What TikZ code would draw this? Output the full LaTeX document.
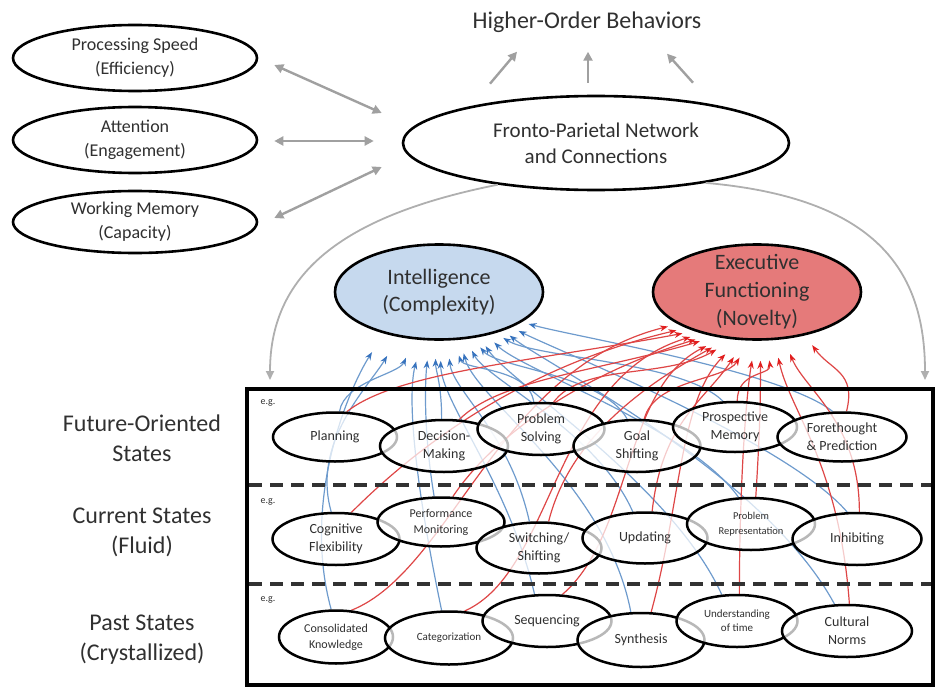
\documentclass[tikz,border=0pt]{standalone}
\usepackage{fontspec}
\setmainfont{Carlito}
\usetikzlibrary{arrows.meta,shapes.geometric,calc}
\definecolor{txt}{RGB}{48,48,48}
\definecolor{garr}{RGB}{160,160,160}
\definecolor{gcur}{RGB}{175,175,175}
\definecolor{bl}{RGB}{110,155,205}
\definecolor{blh}{RGB}{55,115,190}
\definecolor{rd}{RGB}{222,70,70}
\definecolor{rdh}{RGB}{225,30,30}
\definecolor{intf}{RGB}{198,217,238}
\definecolor{eff}{RGB}{229,122,122}
\definecolor{dsh}{RGB}{50,50,50}
\pgfdeclarelayer{bg}
\pgfsetlayers{bg,main}
\begin{document}
\begin{tikzpicture}[x=1pt,y=-1pt,
  every node/.style={text=txt},
  oval/.style={ellipse, draw=black, inner sep=0pt, align=center},
  st/.style={oval, line width=2.5pt, fill=white, fill opacity=0.72, text opacity=1, font=\fontsize{14}{18}\selectfont},
  big/.style={oval, line width=2.6pt, fill=white, font=\fontsize{18}{24}\selectfont},
  side/.style={align=center, font=\fontsize{24}{30}\selectfont},
  eg/.style={font=\fontsize{10}{12}\selectfont},
  garrow/.style={draw=garr, line width=2.4pt, -{Triangle[length=9pt,width=9pt]}},
  gdbl/.style={draw=garr, line width=2.4pt, {Triangle[length=9pt,width=9pt]}-{Triangle[length=9pt,width=9pt]}},
  gcurve/.style={draw=gcur, line width=1.8pt, -{Triangle[length=9pt,width=8pt]}},
  dashline/.style={draw=dsh, line width=3.2pt, dash pattern=on 13pt off 8pt},
  bA/.style={draw=bl, line width=1.2pt, -{Stealth[length=8pt,width=6pt,color=blh]}},
  rA/.style={draw=rd, line width=1.2pt, -{Stealth[length=8pt,width=6pt,color=rdh]}},
]
\useasboundingbox (0,0) rectangle (937,690);

% ---- top part
\node[font=\fontsize{24}{28}\selectfont] (hob) at (587,22) {Higher-Order Behaviors};
\node[big, minimum width=244pt, minimum height=66pt] (psp) at (135,58) {Processing Speed\\(Efficiency)};
\node[big, minimum width=244pt, minimum height=66pt] (att) at (135,140) {Attention\\(Engagement)};
\node[big, minimum width=244pt, minimum height=62pt] (wm) at (135,222) {Working Memory\\(Capacity)};
\node[oval, line width=2.6pt, fill=white, minimum width=386pt, minimum height=94pt, font=\fontsize{21}{26}\selectfont] (fpn) at (596,143) {Fronto-Parietal Network\\and Connections};
\node[oval, line width=2.6pt, fill=intf, minimum width=208pt, minimum height=95pt, font=\fontsize{22}{27}\selectfont] (intel) at (439,292) {Intelligence\\(Complexity)};
\node[oval, line width=2.6pt, fill=eff, minimum width=208pt, minimum height=95pt,
  label={[align=center, text=txt, font=\fontsize{22}{28}\selectfont]center:Executive\\Functioning\\(Novelty)}] (ef) at (757,292) {};

% ---- side labels
\node[side] (fut) at (142,438) {Future-Oriented\\States};
\node[side] (cur) at (142,532) {Current States\\(Fluid)};
\node[side] (past) at (142,640) {Past States\\(Crystallized)};

% ---- box
\node[draw=black, line width=4.8pt, minimum width=686pt, minimum height=296pt, inner sep=0pt] (box) at (590,537) {};
\coordinate (d1a) at (249,485); \coordinate (d1b) at (931,485);
\coordinate (d2a) at (249,584); \coordinate (d2b) at (931,584);
\draw[dashline] (d1a) -- (d1b);
\draw[dashline] (d2a) -- (d2b);
\node[eg] (eg1) at (268,403) {e.g.};
\node[eg] (eg2) at (268,502) {e.g.};
\node[eg] (eg3) at (268,600) {e.g.};

% ---- row 1
\node[st, minimum width=124pt, minimum height=49pt] (plan) at (335,437) {Planning};
\node[st, minimum width=128pt, minimum height=52pt] (dec) at (444,446) {Decision-\\Making};
\node[st, minimum width=127pt, minimum height=52pt] (ps) at (541,429) {Problem\\Solving};
\node[st, minimum width=127pt, minimum height=52pt] (gs) at (637,446) {Goal\\Shifting};
\node[st, minimum width=124pt, minimum height=50pt] (pm) at (735,427) {Prospective\\Memory};
\node[st, minimum width=129pt, minimum height=49pt] (fp) at (842,437) {Forethought\\\& Prediction};
% ---- row 2
\node[st, minimum width=127pt, minimum height=52pt] (cf) at (336,539) {Cognitive\\Flexibility};
\node[st, minimum width=127pt, minimum height=49pt, font=\fontsize{12}{16}\selectfont] (perf) at (441,522) {Performance\\Monitoring};
\node[st, minimum width=125pt, minimum height=51pt] (sw) at (539,548) {Switching/\\Shifting};
\node[st, minimum width=125pt, minimum height=51pt] (up) at (645,538) {Updating};
\node[st, minimum width=128pt, minimum height=52pt, font=\fontsize{10.5}{15}\selectfont] (pr) at (751,524) {Problem\\Representation};
\node[st, minimum width=129pt, minimum height=52pt] (inh) at (857,539) {Inhibiting};
% ---- row 3
\node[st, minimum width=114pt, minimum height=53pt, font=\fontsize{12}{16}\selectfont] (ck) at (336,637) {Consolidated\\Knowledge};
\node[st, minimum width=128pt, minimum height=53pt, font=\fontsize{11}{14}\selectfont] (cat) at (449,638) {Categorization};
\node[st, minimum width=129pt, minimum height=52pt] (seq) at (547,621) {Sequencing};
\node[st, minimum width=127pt, minimum height=54pt] (syn) at (641,640) {Synthesis};
\node[st, minimum width=121pt, minimum height=52pt, font=\fontsize{11}{14}\selectfont] (ut) at (737,621) {Understanding\\of time};
\node[st, minimum width=130pt, minimum height=52pt] (cn) at (847,631) {Cultural\\Norms};

% ---- gray connectors
\draw[gdbl] ($(psp.east)+(16,7)$) -- ($(fpn.west)+(-20,-30)$);
\draw[gdbl] ($(att.east)+(16,1)$) -- ($(fpn.west)+(-28,-2)$);
\draw[gdbl] ($(wm.east)+(16,-4)$) -- ($(fpn.west)+(-20,24)$);
\draw[garrow] ($(fpn.north)+(-106,-11)$) -- ($(fpn.north)+(-79,-43)$);
\draw[garrow] ($(fpn.north)+(-8,-12)$) -- ($(fpn.north)+(-8,-43)$);
\draw[garrow] ($(fpn.north)+(97,-12)$) -- ($(fpn.north)+(71,-41)$);
\coordinate (lt) at (270,380);
\coordinate (rt) at (925,380);
\draw[gcurve] (fpn.203) .. controls +(-150,30) and +(0,-110) .. (lt);
\draw[gcurve] (fpn.340) .. controls +(170,15) and +(0,-110) .. (rt);

% ---- colored connectors (behind the ellipses)
\begin{pgfonlayer}{bg}
\foreach \s/\a/\t/\ax/\ay/\bx/\by/\sh in {
  ck/100/217/-30/-110/-35/55/22, cf/100/228/-20/-70/-30/50/22,
  plan/80/242/5/-30/-15/35/20, cat/105/250/-25/-120/-15/60/22,
  perf/105/259/-10/-60/-5/45/20, dec/95/266/0/-35/0/30/18,
  seq/115/272/-25/-110/0/60/20, sw/110/280/-20/-90/5/50/18,
  ps/105/287/-5/-35/10/30/16, syn/110/294/-25/-130/15/60/14,
  up/115/300/-35/-80/20/40/13, gs/110/306/-25/-45/25/30/12,
  ut/120/312/-50/-110/30/45/11, pr/115/318/-50/-70/35/35/10,
  pm/115/324/-40/-40/40/25/9, cn/115/329/-70/-130/45/35/8,
  inh/110/334/-60/-70/50/25/8, fp/110/340/-50/-40/55/15/7}
  \draw[bA, shorten >=\sh pt] (\s.\a) .. controls +(\ax,\ay) and +(\bx,\by) .. (intel.\t);
\foreach \s/\a/\t/\ax/\ay/\bx/\by/\sh in {
  ck/60/202/100/-40/-180/45/10, cf/60/207/60/-60/-170/40/10,
  plan/65/212/50/-40/-160/30/12, cat/60/217/90/-40/-150/45/12,
  perf/65/222/40/-60/-130/40/14, dec/60/227/40/-40/-120/35/16,
  seq/60/233/70/-60/-100/50/18, sw/70/238/20/-80/-90/50/18,
  ps/65/244/30/-40/-70/40/20, syn/70/250/30/-110/-60/60/20,
  up/75/256/10/-90/-40/60/20, gs/75/262/10/-40/-25/40/20,
  ut/85/268/0/-100/-10/60/20, pr/80/274/5/-80/0/50/20,
  pm/85/281/0/-30/5/35/20, cn/85/290/-10/-140/15/70/18,
  inh/85/300/0/-90/20/50/16, fp/80/318/10/-40/25/35/12}
  \draw[rA, shorten >=\sh pt] (\s.\a) .. controls +(\ax,\ay) and +(\bx,\by) .. (ef.\t);
\end{pgfonlayer}
\end{tikzpicture}
\end{document}
